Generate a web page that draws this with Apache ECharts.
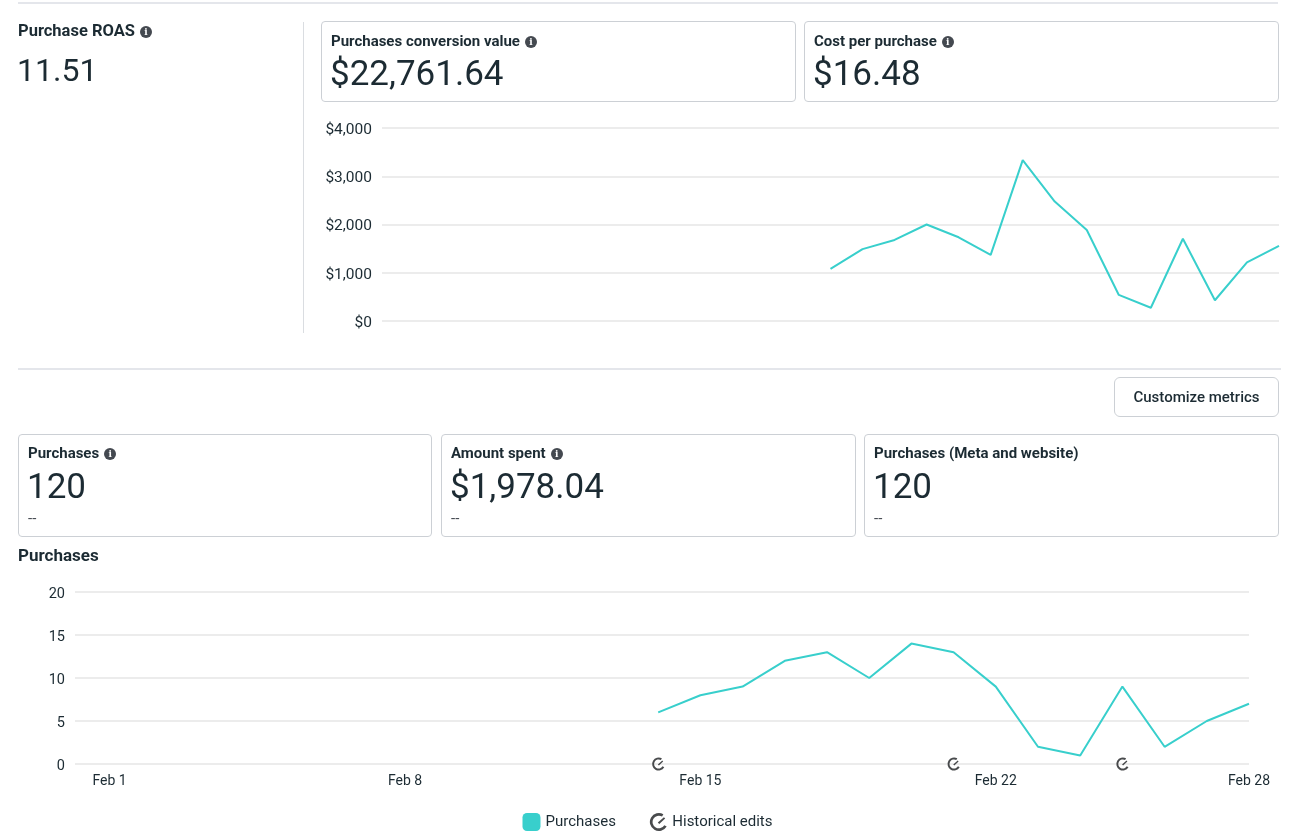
<!DOCTYPE html>
<html>
<head>
<meta charset="utf-8">
<title>Ads performance</title>
<script src="https://cdn.jsdelivr.net/npm/echarts@6/dist/echarts.min.js"></script>
<style>
  html, body { margin: 0; padding: 0; background: #fff; }
  body { width: 1295px; height: 832px; position: relative; overflow: hidden;
         font-family: Roboto, "Noto Sans", sans-serif; color: #1c2b33; }
  #chart { position: absolute; left: 0; top: 0; width: 1295px; height: 832px; }
  .abs { position: absolute; }
  .rule { position: absolute; height: 2px; background: #e4e6eb; }
  .card { position: absolute; border: 1px solid #ccd0d5; border-radius: 4px; box-sizing: border-box; background: transparent; }
  .ttl { position: absolute; left: 9px; font-size: 15px; font-weight: 700; line-height: 18px; white-space: nowrap; }
  .val { position: absolute; left: 8px; font-size: 35px; font-weight: 400; line-height: 40px; white-space: nowrap; }
  .dash { position: absolute; left: 9px; font-size: 15px; line-height: 16px; color: #444950; }
  .info { display: inline-block; width: 12px; height: 12px; border-radius: 50%; background: #444950; color: #fff;
          font-size: 9px; font-weight: 700; line-height: 12px; text-align: center; vertical-align: 1px; margin-left: 5px;
          font-family: "DejaVu Serif", serif; }
  .btn { position: absolute; left: 1114px; top: 377px; width: 165px; height: 40px; box-sizing: border-box;
         border: 1px solid #ccd0d5; border-radius: 6px; font-size: 15px; font-weight: 500; line-height: 38px; text-align: center; }
</style>
</head>
<body>
<div id="chart"></div>

<div class="rule" style="left:18px; top:2px; width:1260px;"></div>
<div class="abs" style="left:18px; top:22px; font-size:16.5px; font-weight:700; line-height:18px;">Purchase ROAS<span class="info">i</span></div>
<div class="abs" style="left:17px; top:51px; font-size:32px; line-height:38px;">11.51</div>
<div class="abs" style="left:303px; top:22px; width:1px; height:311px; background:#dadde1;"></div>

<div class="card" style="left:321px; top:21px; width:475px; height:81px;">
  <div class="ttl" style="top:10px;">Purchases conversion value<span class="info">i</span></div>
  <div class="val" style="top:32px;">$22,761.64</div>
</div>
<div class="card" style="left:804px; top:21px; width:475px; height:81px;">
  <div class="ttl" style="top:10px;">Cost per purchase<span class="info">i</span></div>
  <div class="val" style="top:32px;">$16.48</div>
</div>

<div class="rule" style="left:18px; top:368px; width:1263px;"></div>
<div class="btn">Customize metrics</div>

<div class="card" style="left:18px; top:434px; width:414px; height:103px;">
  <div class="ttl" style="top:9px;">Purchases<span class="info">i</span></div>
  <div class="val" style="top:32px;">120</div>
  <div class="dash" style="top:75px;">--</div>
</div>
<div class="card" style="left:441px; top:434px; width:415px; height:103px;">
  <div class="ttl" style="top:9px;">Amount spent<span class="info">i</span></div>
  <div class="val" style="top:32px;">$1,978.04</div>
  <div class="dash" style="top:75px;">--</div>
</div>
<div class="card" style="left:864px; top:434px; width:415px; height:103px;">
  <div class="ttl" style="top:9px;">Purchases (Meta and website)</div>
  <div class="val" style="top:32px;">120</div>
  <div class="dash" style="top:75px;">--</div>
</div>
<div class="abs" style="left:18px; top:545px; font-size:17px; font-weight:700; line-height:20px;">Purchases</div>

<script>
// days of February that have data
var days = [14, 15, 16, 17, 18, 19, 20, 21, 22, 23, 24, 25, 26, 27, 28];
var conversionValue = [1080, 1490, 1680, 2000, 1735, 1370, 3335, 2475, 1885, 540, 275, 1705, 430, 1215, 1555];
var purchases = [6, 8, 9, 12, 13, 10, 14, 13, 9, 2, 1, 9, 2, 5, 7];
var editDays = [14, 21, 25];
var dayLabels = [1, 8, 15, 22, 28];

var teal = '#38cfcc';
var textColor = '#1c2b33';
var gridColor = '#e6e6e6';
var editIcon = 'path://M17 3.34A10 10 0 1 0 20.66 17L18.06 15.5A7 7 0 1 1 15.5 5.94Z M10.8 12.6L17.6 6.6L19 8L12.4 14.2Z';

function pairs(xs, ys) {
    return xs.map(function (x, i) { return [x, ys[i]]; });
}

var chart = echarts.init(document.getElementById('chart'), null, { renderer: 'canvas' });

var option = {
    animation: false,
    textStyle: { fontFamily: 'Roboto, "Noto Sans", sans-serif', color: textColor },
    grid: [
        { left: 382, right: 16, top: 128, height: 193 },
        { left: 75, right: 46, top: 592, height: 172 }
    ],
    xAxis: [
        {
            gridIndex: 0, type: 'value', min: 0, max: 28,
            axisLine: { show: false }, axisTick: { show: false },
            axisLabel: { show: false }, splitLine: { show: false }
        },
        {
            gridIndex: 1, type: 'value', min: 0.18, max: 28,
            axisLine: { show: false }, axisTick: { show: false },
            splitLine: { show: false },
            axisLabel: {
                customValues: dayLabels,
                formatter: function (v) { return 'Feb ' + v; },
                color: textColor, fontSize: 14, margin: 10
            }
        }
    ],
    yAxis: [
        {
            gridIndex: 0, type: 'value', min: 0, max: 4000, interval: 1000,
            axisLine: { show: false }, axisTick: { show: false },
            axisLabel: {
                margin: 10,
                formatter: function (v) { return '{t|$' + v.toLocaleString('en-US') + '}'; },
                rich: { t: { color: textColor, fontSize: 15.5, padding: [4, 0, 0, 0] } }
            },
            splitLine: { lineStyle: { color: gridColor, width: 1.5 } }
        },
        {
            gridIndex: 1, type: 'value', min: 0, max: 20, interval: 5,
            axisLine: { show: false }, axisTick: { show: false },
            axisLabel: {
                margin: 10,
                formatter: function (v) { return '{t|' + v + '}'; },
                rich: { t: { color: textColor, fontSize: 14.5, padding: [4, 0, 0, 0] } }
            },
            splitLine: { lineStyle: { color: gridColor, width: 1.5 } }
        }
    ],
    legend: {
        top: 808,
        left: 'center',
        itemWidth: 18,
        itemHeight: 18,
        itemGap: 34,
        textStyle: { color: textColor, fontSize: 15 },
        data: [
            { name: 'Purchases', icon: 'roundRect' },
            { name: 'Historical edits', icon: editIcon }
        ]
    },
    series: [
        {
            name: 'Purchases conversion value',
            type: 'line',
            xAxisIndex: 0, yAxisIndex: 0,
            showSymbol: false,
            color: teal,
            lineStyle: { width: 2, color: teal },
            data: pairs(days, conversionValue)
        },
        {
            name: 'Purchases',
            type: 'line',
            xAxisIndex: 1, yAxisIndex: 1,
            showSymbol: false,
            color: teal,
            itemStyle: { color: teal },
            lineStyle: { width: 2, color: teal },
            data: pairs(days, purchases)
        },
        {
            name: 'Historical edits',
            type: 'scatter',
            xAxisIndex: 1, yAxisIndex: 1,
            symbol: editIcon,
            symbolSize: 13,
            symbolKeepAspect: true,
            clip: false,
            z: 5,
            itemStyle: { color: '#1c1e21' },
            data: editDays.map(function (d) { return [d, 0]; })
        }
    ]
};

chart.setOption(option);
window.addEventListener('resize', function () {
    chart.resize();
});
</script>
</body>
</html>
